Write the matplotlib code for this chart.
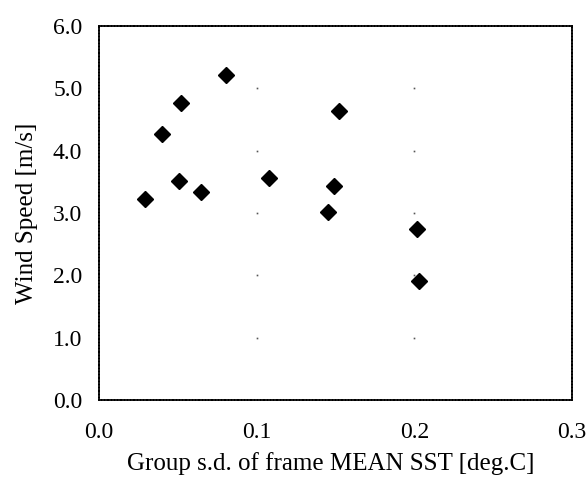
import matplotlib.pyplot as plt
import numpy as np

# group s.d. of frame mean SST vs wind speed
sst_sd = [0.029, 0.040, 0.052, 0.0805, 0.051, 0.065, 0.108, 0.152, 0.149, 0.145, 0.2015, 0.203]
wind = [3.22, 4.27, 4.76, 5.21, 3.51, 3.34, 3.56, 4.64, 3.43, 3.02, 2.74, 1.91]

x_ticks = [0.0, 0.1, 0.2, 0.3]
y_ticks = [0.0, 1.0, 2.0, 3.0, 4.0, 5.0, 6.0]

plt.rcParams['font.family'] = 'Liberation Serif'

fig = plt.figure(figsize=(5.87, 4.79), dpi=100)
ax = fig.add_axes([0.1687, 0.1649, 0.8057, 0.7808])

# faint dots where the gridlines would cross
gx, gy = np.meshgrid(x_ticks[1:-1], y_ticks[1:-1])
ax.plot(gx.ravel(), gy.ravel(), linestyle="none", marker="s", markersize=1.2,
        color="#555555", markeredgewidth=0)

ax.plot(sst_sd, wind, linestyle="none", marker="D", markersize=8.5, color="black")

ax.set_xlim(0, 0.3)
ax.set_ylim(0, 6)
ax.set_xticks(x_ticks)
ax.set_xticklabels(["%.1f" % v for v in x_ticks])
ax.set_yticks(y_ticks)
ax.set_yticklabels(["%.1f" % v for v in y_ticks])
ax.tick_params(axis="both", length=0, labelsize=17)
ax.tick_params(axis="x", pad=16)
ax.tick_params(axis="y", pad=12)

for s in ax.spines.values():
  s.set_linestyle((0, (1, 0.8)))
  s.set_linewidth(1.3)

ax.set_xlabel("Group s.d. of frame MEAN SST [deg.C]", fontsize=18)
ax.set_ylabel("Wind Speed [m/s]", fontsize=18)
ax.xaxis.set_label_coords(0.49, -0.14)
ax.yaxis.set_label_coords(-0.128, 0.5)

plt.savefig("out.png")
